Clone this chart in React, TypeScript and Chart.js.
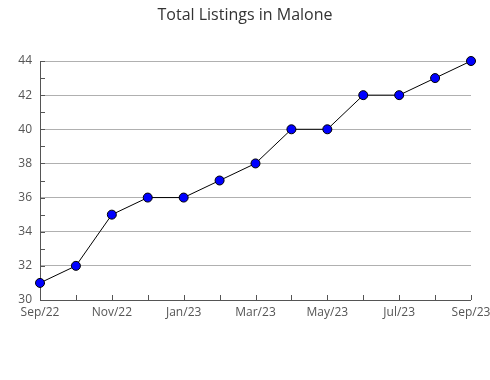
import React, { useEffect, useRef } from "react";
import { Chart, registerables } from "chart.js";

Chart.register(...registerables);

const months = ["Sep/22","Oct/22","Nov/22","Dec/22","Jan/23","Feb/23","Mar/23","Apr/23","May/23","Jun/23","Jul/23","Aug/23","Sep/23"];
const listings = [31, 32, 35, 36, 36, 37, 38, 40, 40, 42, 42, 43, 44];
const yMin = 30;
const yMax = 44;
const titleText = "Total Listings in Malone";

const FONT = "'Open Sans', 'Noto Sans', sans-serif";

const framePlugin = {
  id: "frame",
  beforeDatasetsDraw(chart: any) {
    const { ctx, chartArea, scales } = chart;
    const { left, right, top, bottom } = chartArea;
    ctx.save();
    ctx.strokeStyle = "#555555";
    ctx.lineWidth = 1;
    ctx.beginPath();
    ctx.moveTo(left + 0.5, top);
    ctx.lineTo(left + 0.5, bottom + 0.5);
    ctx.lineTo(right, bottom + 0.5);
    ctx.stroke();
    ctx.beginPath();
    for (let v = yMin; v <= yMax; v++) {
      const y = Math.round(scales.y.getPixelForValue(v)) + 0.5;
      ctx.moveTo(left, y);
      ctx.lineTo(left + 5, y);
    }
    for (let i = 0; i < months.length; i++) {
      const x = Math.round(scales.x.getPixelForValue(i)) + 0.5;
      ctx.moveTo(x, bottom);
      ctx.lineTo(x, bottom - 5);
    }
    ctx.stroke();
    ctx.fillStyle = "#333333";
    ctx.font = `16px ${FONT}`;
    ctx.textAlign = "center";
    ctx.textBaseline = "middle";
    ctx.fillText(titleText, 245, 15);
    ctx.restore();
  },
};

export default function App() {
  const ref = useRef<HTMLCanvasElement>(null);
  useEffect(() => {
    document.body.style.margin = "0";
    const chart = new Chart(ref.current!, {
      type: "line",
      data: {
        labels: months,
        datasets: [
          {
            data: listings,
            borderColor: "#000000",
            borderWidth: 1,
            backgroundColor: "#0000ff",
            pointBackgroundColor: "#0000ff",
            pointBorderColor: "#000000",
            pointBorderWidth: 1,
            pointRadius: 4.5,
            tension: 0,
            clip: false as any,
          },
        ],
      },
      options: {
        animation: false,
        responsive: false,
        layout: { padding: { top: 61, right: 19, left: 0, bottom: 0 } },
        plugins: { legend: { display: false }, title: { display: false }, tooltip: { enabled: false } },
        scales: {
          x: {
            type: "category",
            offset: false,
            grid: { display: false, drawTicks: false },
            border: { display: false },
            ticks: {
              autoSkip: false,
              maxRotation: 0,
              padding: 5,
              color: "#555555",
              font: { family: FONT, size: 12 },
              callback: (_v: any, i: number) => (i % 2 === 0 ? months[i] : ""),
            },
            afterFit: (s: any) => { s.height = 80; s.paddingLeft = 0; s.paddingRight = 0; },
          },
          y: {
            min: yMin,
            max: yMax,
            grid: {
              drawTicks: false,
              color: (c: any) => (c.tick && c.tick.value > yMin ? "#b0b0b0" : "rgba(0,0,0,0)"),
              lineWidth: 1,
            },
            border: { display: false },
            ticks: {
              stepSize: 2,
              padding: 8,
              color: "#555555",
              font: { family: FONT, size: 12 },
            },
            afterFit: (s: any) => { s.width = 40; s.paddingTop = 0; s.paddingBottom = 0; },
          },
        },
      },
      plugins: [framePlugin],
    });
    return () => chart.destroy();
  }, []);
  return (
    <div style={{ width: 490, height: 380 }}>
      <canvas ref={ref} width={490} height={380} />
    </div>
  );
}
